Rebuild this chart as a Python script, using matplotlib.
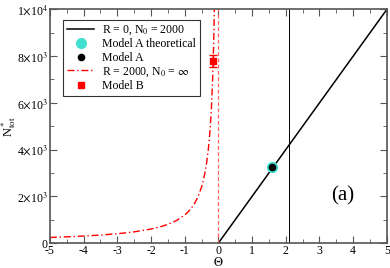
import numpy as np
import matplotlib.pyplot as plt
from matplotlib.ticker import MultipleLocator, FixedLocator

plt.rcParams['font.family'] = ['Liberation Serif', 'DejaVu Serif']
plt.rcParams['mathtext.fontset'] = 'stix'
plt.rcParams['axes.unicode_minus'] = False

# R = 0, N0 = 2000 line
theta_lin = [0, 5]
n_lin = [0, 10000]

# R = 2000, N0 = inf curve
theta_inf = [-5, -4.5, -4, -3.5, -3, -2.5, -2, -1.75, -1.5, -1.25, -1, -0.9, -0.8,
             -0.7, -0.6, -0.5, -0.45, -0.4, -0.35, -0.3, -0.27, -0.24, -0.21,
             -0.18, -0.16, -0.14, -0.12]
n_inf = [240, 267, 300, 343, 400, 480, 600, 686, 800, 960, 1200, 1333, 1500,
         1714, 2000, 2400, 2667, 3000, 3429, 4000, 4444, 5000, 5714,
         6667, 7500, 8571, 10000]

# Model A
theta_a = [1.6]
n_a = [3250]

# Model B
theta_b = [-0.15]
n_b = [7780]
err_b = [250]

theta_vline = 2.1

fig = plt.figure(figsize=(3.9, 2.68), dpi=100)
ax = fig.add_axes([0.128, 0.093, 0.864, 0.872])

ax.plot(theta_lin, n_lin, color='black', lw=1.1, label=r'R = 0, N$_0$ = 2000')
ax.plot(theta_a, n_a, 'o', color='#40e0d0', ms=7, label='Model A theoretical')
ax.plot(theta_a, n_a, 'o', color='black', ms=4.5, label='Model A')
ax.plot(theta_inf, n_inf, color='red', lw=1.0, dashes=[5, 2, 1, 2],
        label=r'R = 2000, N$_0$ = $\infty$')
ax.errorbar(theta_b, n_b, yerr=err_b, fmt='none', ecolor='red', capsize=3,
            elinewidth=1)
ax.plot(theta_b, n_b, 's', color='red', ms=5, label='Model B')
ax.axvline(0, color='#ff6060', lw=0.9, ls=(0, (3, 2)))
ax.axvline(theta_vline, color='black', lw=0.7)

ax.set_xlim(-5, 5)
ax.set_ylim(0, 10000)
ax.xaxis.set_major_locator(MultipleLocator(1))
ax.xaxis.set_minor_locator(MultipleLocator(0.5))
ax.yaxis.set_major_locator(FixedLocator([0, 2000, 4000, 6000, 8000, 10000]))
ax.yaxis.set_minor_locator(MultipleLocator(1000))
ax.set_yticklabels(['0', r'2$\times$10$^3$', r'4$\times$10$^3$', r'6$\times$10$^3$',
                    r'8$\times$10$^3$', r'1$\times$10$^4$'])
ax.tick_params(which='both', direction='in', top=True, right=True, labelsize=8.5,
               color='#555555', pad=1.5)
ax.tick_params(which='major', length=5)
ax.tick_params(which='minor', length=3)
for s in ax.spines.values():
    s.set_color('#555555')
    s.set_linewidth(1.2)

ax.set_xlabel(r'$\Theta$', fontsize=9, labelpad=-0.5)
ax.set_ylabel(r'N$^*_{\rm tot}$', fontsize=9)
ax.yaxis.set_label_coords(-0.094, 0.5)

ax.text(3.7, 2000, '(a)', fontsize=15, ha='center', va='center')

leg = ax.legend(loc='upper left', bbox_to_anchor=(0.04, 0.955), fontsize=8.5,
                frameon=True, fancybox=False, edgecolor='black', handlelength=2.3,
                borderpad=0.3, labelspacing=0.12, handletextpad=0.7,
                borderaxespad=0)
leg.get_frame().set_linewidth(0.8)

fig.savefig('out.png', dpi=100)
